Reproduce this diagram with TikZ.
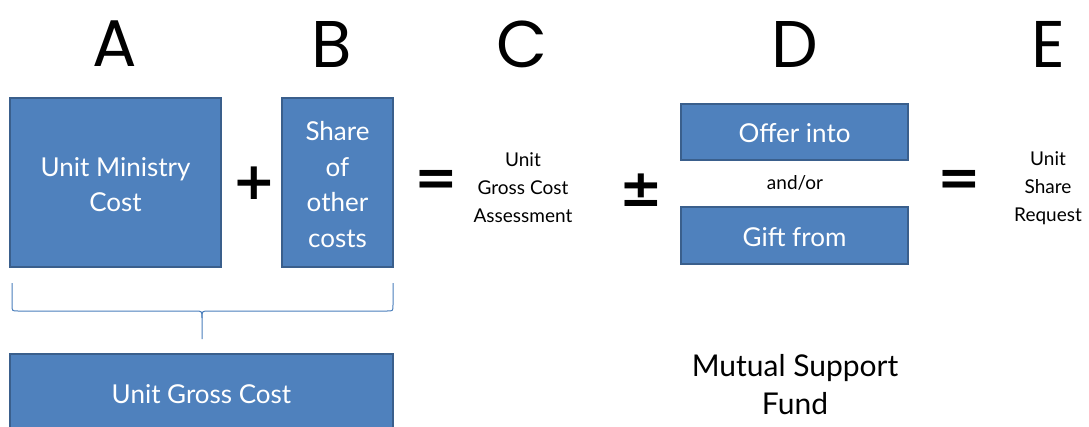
\documentclass[tikz,border=0pt]{standalone}
\usepackage{fontspec}
\setmainfont{Lato}
\newfontfamily\letterfont{Poppins}
\newfontfamily\symfont{DejaVu Sans}
\definecolor{boxfill}{HTML}{4F81BD}
\definecolor{boxline}{HTML}{3A5F8C}
\definecolor{bracecol}{HTML}{4A7EBB}
\begin{document}
\begin{tikzpicture}[x=1pt,y=-1pt,
  bluebox/.style={draw=boxline,fill=boxfill,line width=1.8pt},
  boxtext/.style={text=white,align=center,font=\fontsize{26}{35.5}\selectfont},
  letter/.style={font=\letterfont\fontsize{66}{66}\selectfont},
  symb/.style={font=\symfont\bfseries\fontsize{52}{52}\selectfont},
  small/.style={align=center,font=\fontsize{19}{28}\selectfont},
]
\useasboundingbox (0,0) rectangle (1089,426);
\begin{scope}
\clip (0,0) rectangle (1089,426);
\draw[bluebox] (10,98) rectangle (221,267);
\draw[bluebox] (282,98) rectangle (393,267);
\draw[bluebox] (10,354) rectangle (393,440);
\draw[bluebox] (681,104) rectangle (908,160);
\draw[bluebox] (681,207) rectangle (908,264);
\end{scope}
\node[boxtext] (umc) at (115.5,184.5) {Unit Ministry\\Cost};
\node[boxtext] (soc) at (337.5,184.5) {Share\\of\\other\\costs};
\node[boxtext] (ugc) at (201.5,394) {Unit Gross Cost};
\node[boxtext] (offer) at (794.5,133) {Offer into};
\node[boxtext] (gift) at (794.5,237) {Gift from};
\node[font=\fontsize{19}{20}\selectfont] (andor) at (795,183) {and/or};
\node[letter] (A) at (115,44) {A};
\node[letter] (B) at (332,44) {B};
\node[letter] (C) at (522,44) {C};
\node[letter] (D) at (795,44) {D};
\node[letter] (E) at (1048,44) {E};
\node[symb] (plus) at (254,183) {+};
\node[symb] (eq1) at (436,183) {=};
\node[symb] (pm) at (641,190) {±};
\node[symb] (eq2) at (959,183) {=};
\node[small] (ugca) at (523,188) {Unit\\Gross Cost\\Assessment};
\node[small] (usr) at (1048,188) {Unit\\Share\\Request};
\node[align=center,font=\fontsize{30}{38}\selectfont] (msf) at (795,385) {Mutual Support\\Fund};
\coordinate (bl) at (12,283);
\coordinate (br) at (393,283);
\coordinate (btip) at (202,339);
\draw[bracecol,line width=1pt] (bl) -- (12,305) .. controls (12,311) .. (18,311) -- (195,311) .. controls (202,311) .. (202,318) -- (btip);
\draw[bracecol,line width=1pt] (br) -- (393,305) .. controls (393,311) .. (387,311) -- (209,311) .. controls (202,311) .. (202,318);
\end{tikzpicture}
\end{document}
